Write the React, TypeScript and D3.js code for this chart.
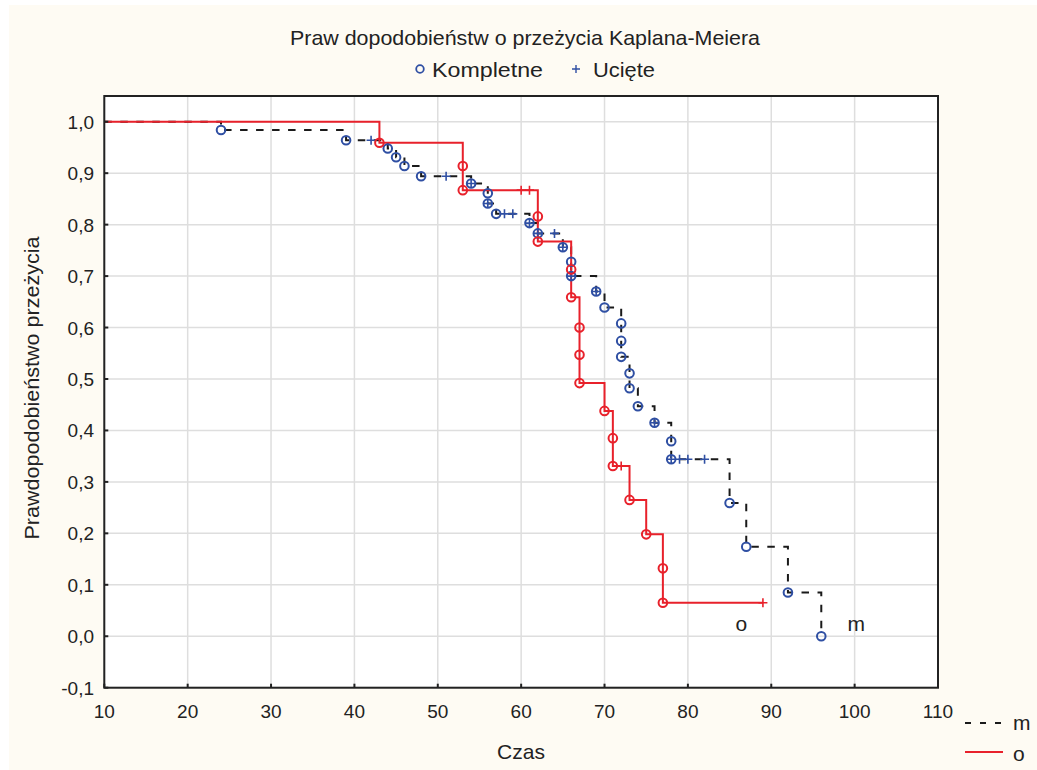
import React from "react";
import * as d3 from "d3";

// x / y ticks
const xTicks = [10, 20, 30, 40, 50, 60, 70, 80, 90, 100, 110];
const yTicks = [-0.1, 0, 0.1, 0.2, 0.3, 0.4, 0.5, 0.6, 0.7, 0.8, 0.9, 1.0];

// group "m": time, survival, complete (1) or censored (0)
const mTime = [24, 39, 42, 44, 45, 46, 48, 51, 54, 54, 56, 56, 56, 57, 58, 59, 61, 61, 62, 62, 64, 65, 65, 66, 66, 66, 69, 69, 70, 72, 72, 72, 73, 73, 74, 76, 76, 78, 78, 78, 79, 80, 82, 85, 87, 92, 96];
const mSurv = [0.984, 0.964, 0.964, 0.948, 0.931, 0.914, 0.894, 0.894, 0.88, 0.88, 0.861, 0.841, 0.841, 0.821, 0.821, 0.821, 0.803, 0.803, 0.783, 0.783, 0.783, 0.756, 0.756, 0.728, 0.7, 0.7, 0.67, 0.67, 0.639, 0.608, 0.574, 0.543, 0.511, 0.482, 0.447, 0.415, 0.415, 0.379, 0.344, 0.344, 0.344, 0.344, 0.344, 0.259, 0.174, 0.085, 0];
const mDone = [1, 1, 0, 1, 1, 1, 1, 0, 1, 0, 1, 1, 0, 1, 0, 0, 1, 0, 1, 0, 0, 1, 0, 1, 1, 0, 1, 0, 1, 1, 1, 1, 1, 1, 1, 1, 0, 1, 1, 0, 0, 0, 0, 1, 1, 1, 1];

// group "o"
const oTime = [43, 53, 53, 60, 61, 62, 62, 66, 66, 67, 67, 67, 70, 71, 71, 72, 73, 75, 77, 77, 89];
const oSurv = [0.959, 0.914, 0.867, 0.867, 0.867, 0.816, 0.767, 0.713, 0.659, 0.6, 0.547, 0.492, 0.438, 0.385, 0.331, 0.331, 0.265, 0.198, 0.132, 0.065, 0.065];
const oDone = [1, 1, 1, 0, 0, 1, 1, 1, 1, 1, 1, 1, 1, 1, 1, 0, 1, 1, 1, 1, 0];

const FONT = "'Liberation Sans', Arial, sans-serif";
const RED = "#e8212b";
const BLUE = "#2f4fa3";
const INK = "#222";

const W = 1037;
const H = 770;

const x = d3.scaleLinear().domain([10, 110]).range([104.3, 938]);
const y = d3.scaleLinear().domain([-0.1, 1.05]).range([687.7, 96]);

type Pt = { t: number; s: number; done: number };

function toPoints(time: number[], surv: number[], done: number[]): Pt[] {
  const pts: Pt[] = [{ t: 10, s: 1, done: -1 }];
  time.forEach((t, i) => pts.push({ t, s: surv[i], done: done[i] }));
  return pts;
}

const stepLine = d3
  .line<Pt>()
  .x((d) => x(d.t))
  .y((d) => y(d.s))
  .curve(d3.curveStepAfter);

function Markers({ pts, color }: { pts: Pt[]; color: string }) {
  return (
    <g>
      {pts.map((d, i) => {
        if (d.done === 1)
          return <circle key={i} cx={x(d.t)} cy={y(d.s)} r={4.3} fill="none" stroke={color} strokeWidth={2} />;
        if (d.done === 0)
          return (
            <path
              key={i}
              d={`M${x(d.t) - 4.5},${y(d.s)}h9M${x(d.t)},${y(d.s) - 4.5}v9`}
              stroke={color}
              strokeWidth={1.6}
              fill="none"
            />
          );
        return null;
      })}
    </g>
  );
}

export default function App() {
  const mPts = toPoints(mTime, mSurv, mDone);
  const oPts = toPoints(oTime, oSurv, oDone);
  const fmt = (v: number) => d3.format(".1f")(v).replace(".", ",").replace("−", "-");
  const [x0, x1] = x.range();
  const [y0, y1] = y.range();

  return (
    <svg width={W} height={H} style={{ position: "absolute", left: 0, top: 0, fontFamily: FONT }}>
      <rect width={W} height={H} fill="#fff" />
      <rect x={9} y={5} width={W - 9} height={H - 5} fill="#fefbf3" />

      <text x={525} y={45} textAnchor="middle" fontSize={21} fill={INK} textLength={470} lengthAdjust="spacingAndGlyphs">
        Praw dopodobieństw o przeżycia Kaplana-Meiera
      </text>
      <circle cx={420} cy={69} r={3.8} fill="none" stroke={BLUE} strokeWidth={1.8} />
      <text x={432} y={77} fontSize={21} fill={INK} textLength={111} lengthAdjust="spacingAndGlyphs">
        Kompletne
      </text>
      <path d="M572,69h8M576,65v8" stroke={BLUE} strokeWidth={1.4} />
      <text x={593} y={77} fontSize={21} fill={INK} textLength={62} lengthAdjust="spacingAndGlyphs">
        Ucięte
      </text>

      <rect x={x0} y={y1} width={x1 - x0} height={y0 - y1} fill="#fff" />
      {xTicks.map((t) => (
        <line key={"gx" + t} x1={x(t)} x2={x(t)} y1={y1} y2={y0} stroke="#dedede" strokeWidth={1.5} />
      ))}
      {yTicks.map((t) => (
        <line key={"gy" + t} x1={x0} x2={x1} y1={y(t)} y2={y(t)} stroke="#dedede" strokeWidth={1.5} />
      ))}

      <path d={stepLine(mPts) || ""} fill="none" stroke="#1a1a1a" strokeWidth={2} strokeDasharray="7.5,8.5" />
      <path d={stepLine(oPts) || ""} fill="none" stroke={RED} strokeWidth={2} />
      <Markers pts={mPts} color={BLUE} />
      <Markers pts={oPts} color={RED} />

      <text x={x(86.4)} y={y(0.01)} textAnchor="middle" fontSize={21} fill={INK}>o</text>
      <text x={x(100.2)} y={y(0.01)} textAnchor="middle" fontSize={21} fill={INK}>m</text>

      <rect x={x0} y={y1} width={x1 - x0} height={y0 - y1} fill="none" stroke={INK} strokeWidth={2} />
      {xTicks.map((t) => (
        <g key={"tx" + t}>
          <line x1={x(t)} x2={x(t)} y1={y0} y2={y0 - 4} stroke={INK} strokeWidth={2} />
          <text x={x(t)} y={718} textAnchor="middle" fontSize={19} fill={INK}>
            {t}
          </text>
        </g>
      ))}
      {yTicks.map((t) => (
        <g key={"ty" + t}>
          <line x1={x0} x2={x0 + 4} y1={y(t)} y2={y(t)} stroke={INK} strokeWidth={2} />
          <text x={94} y={y(t) + 7} textAnchor="end" fontSize={19} fill={INK}>
            {fmt(t)}
          </text>
        </g>
      ))}

      <text x={521} y={759} textAnchor="middle" fontSize={21} fill={INK}>Czas</text>
      <text
        transform="translate(39,388) rotate(-90)"
        textAnchor="middle"
        fontSize={21}
        fill={INK}
        textLength={303}
        lengthAdjust="spacingAndGlyphs"
      >
        Prawdopodobieństwo przeżycia
      </text>

      <line x1={965} x2={1002} y1={723} y2={723} stroke="#1a1a1a" strokeWidth={2} strokeDasharray="6,9" />
      <text x={1013} y={730} fontSize={21} fill={INK}>m</text>
      <line x1={965} x2={1003} y1={752} y2={752} stroke={RED} strokeWidth={2} />
      <text x={1013} y={761} fontSize={21} fill={INK}>o</text>
    </svg>
  );
}
